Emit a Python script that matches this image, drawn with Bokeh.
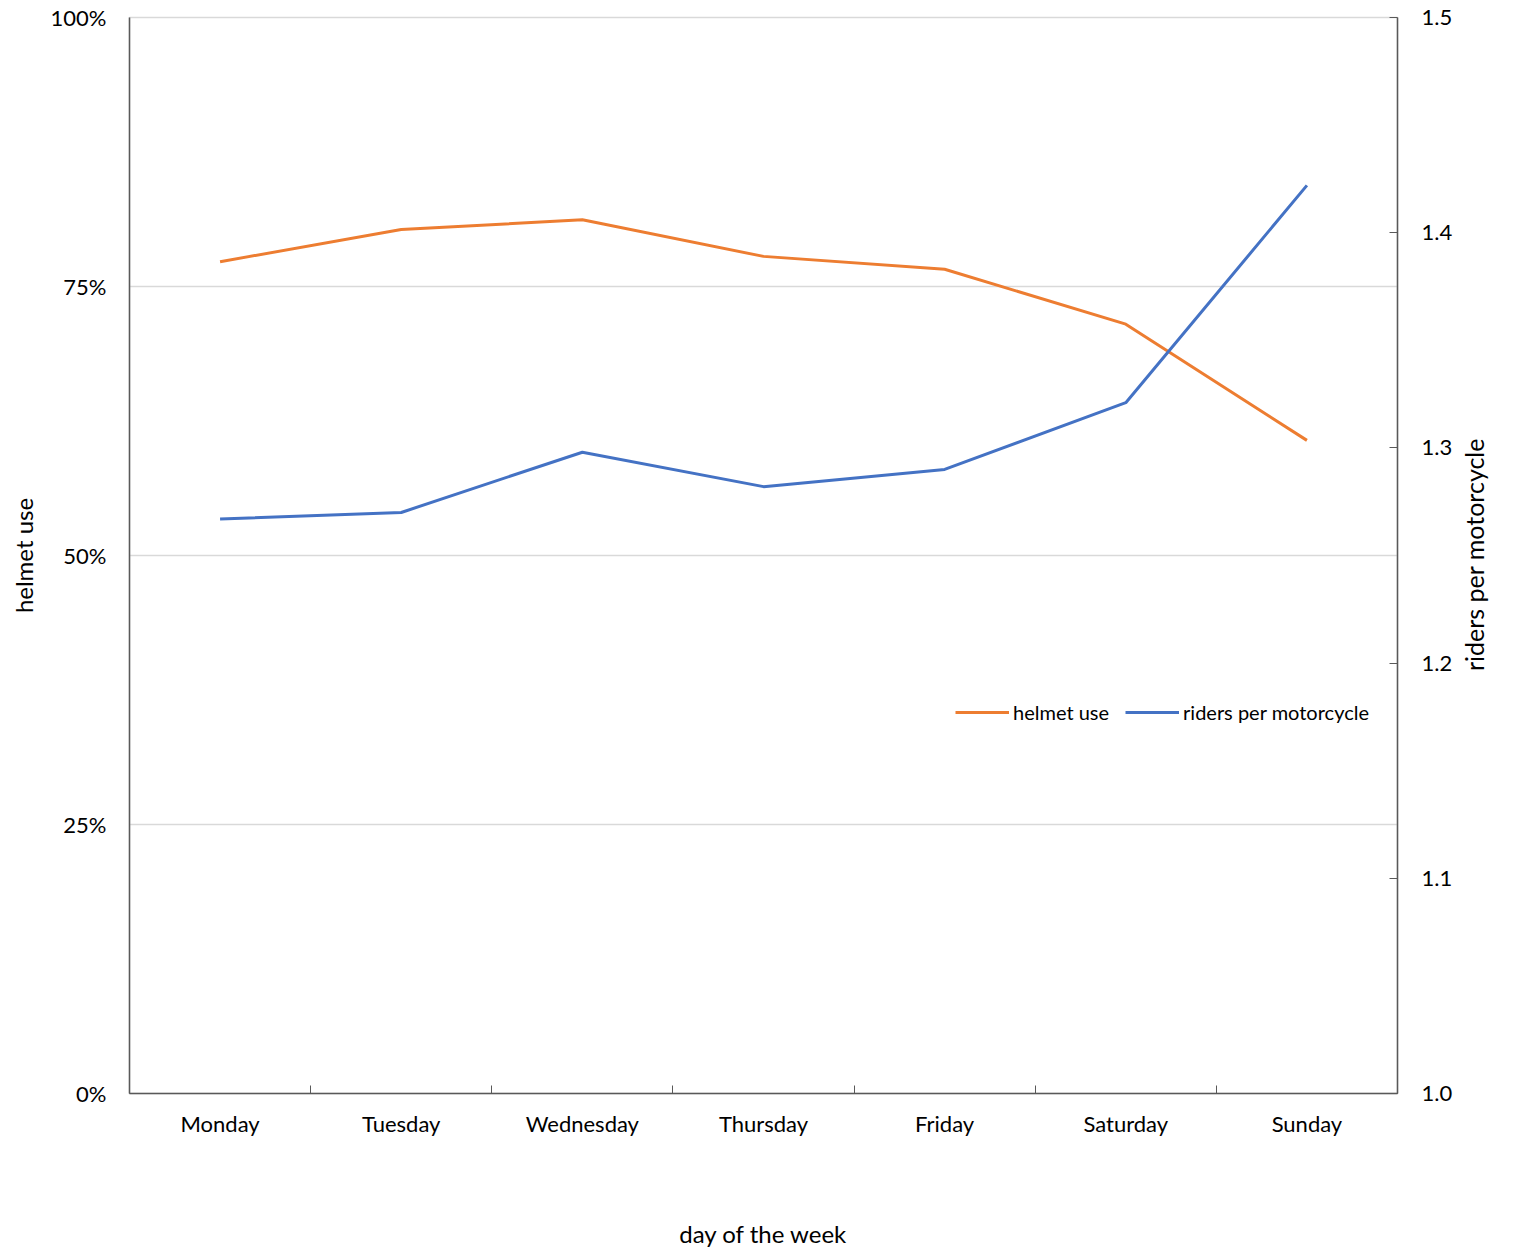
import math
from bokeh.plotting import figure
from bokeh.layouts import row
from bokeh.models import (Range1d, LinearAxis, FixedTicker, NumeralTickFormatter,
                          Legend, LegendItem, Label)
from bokeh.embed import file_html
from bokeh.resources import INLINE

days = ["Monday", "Tuesday", "Wednesday", "Thursday", "Friday", "Saturday", "Sunday"]
helmet_use = [0.773, 0.803, 0.812, 0.778, 0.766, 0.715, 0.607]
riders_per_motorcycle = [1.267, 1.270, 1.298, 1.282, 1.290, 1.321, 1.422]
left_ticks = [0, 0.25, 0.5, 0.75, 1.0]
right_ticks = [1.0, 1.1, 1.2, 1.3, 1.4, 1.5]

FONT = "Lato"
xs = [i + 0.5 for i in range(len(days))]
FW, FH = 1268, 1076
H = 1240
BL, BR, BT, BB = 129, 60, 17, 147

p = figure(width=BL + FW + BR, height=H, output_backend="svg", toolbar_location=None,
           x_range=Range1d(0, len(days)), y_range=Range1d(0, 1),
           frame_width=FW, frame_height=FH,
           min_border_left=BL, min_border_right=BR, min_border_top=BT,
           min_border_bottom=BB)
p.outline_line_color = "#d9d9d9"
p.outline_line_width = 1.5
p.background_fill_color = "white"
p.border_fill_color = "white"
p.extra_y_ranges = {"riders": Range1d(1.0, 1.5)}

# x axis
xa = p.xaxis[0]
xa.ticker = FixedTicker(ticks=xs, minor_ticks=list(range(0, len(days) + 1)))
xa.major_label_overrides = {x: d for x, d in zip(xs, days)}
xa.major_tick_in = 0
xa.major_tick_out = 0
xa.minor_tick_in = 8
xa.minor_tick_out = 0
xa.minor_tick_line_color = "#595959"
xa.axis_line_color = "#595959"
xa.axis_line_width = 1.5
xa.major_label_text_font = FONT
xa.major_label_text_font_size = "22px"
xa.major_label_text_color = "#000000"
xa.major_label_standoff = 16
xa.axis_label = "day of the week"
xa.axis_label_text_font = FONT
xa.axis_label_text_font_size = "24px"
xa.axis_label_text_font_style = "normal"
xa.axis_label_text_color = "#000000"
xa.axis_label_standoff = 79

# left axis
ya = p.yaxis[0]
ya.ticker = FixedTicker(ticks=left_ticks)
ya.formatter = NumeralTickFormatter(format="0%")
ya.major_tick_in = 0
ya.major_tick_out = 0
ya.minor_tick_in = 0
ya.minor_tick_out = 0
ya.axis_line_color = "#595959"
ya.axis_line_width = 1.5
ya.major_label_text_font = FONT
ya.major_label_text_font_size = "22px"
ya.major_label_text_color = "#000000"
ya.major_label_standoff = 23
ya.axis_label = "helmet use"
ya.axis_label_text_font = FONT
ya.axis_label_text_font_size = "24px"
ya.axis_label_text_font_style = "normal"
ya.axis_label_text_color = "#000000"
ya.axis_label_standoff = 10

# right axis
ra = LinearAxis(y_range_name="riders", ticker=FixedTicker(ticks=right_ticks),
                formatter=NumeralTickFormatter(format="0.0"))
ra.major_tick_in = 8
ra.major_tick_out = 0
ra.minor_tick_in = 0
ra.minor_tick_out = 0
ra.axis_line_color = "#595959"
ra.axis_line_width = 1.5
ra.major_tick_line_color = "#595959"
ra.major_label_text_font = FONT
ra.major_label_text_font_size = "22px"
ra.major_label_text_color = "#000000"
ra.major_label_standoff = 24
p.add_layout(ra, "right")

# grid
p.xgrid.grid_line_color = None
p.ygrid[0].ticker = FixedTicker(ticks=left_ticks[1:])
p.ygrid.grid_line_color = "#d9d9d9"
p.ygrid.grid_line_width = 1.5

r1 = p.line(xs, helmet_use, line_color="#ED7D31", line_width=3)
r2 = p.line(xs, riders_per_motorcycle, line_color="#4472C4", line_width=3,
            y_range_name="riders")

legend = Legend(items=[LegendItem(label="helmet use", renderers=[r1]),
                       LegendItem(label="riders per motorcycle", renderers=[r2])],
                orientation="horizontal", location=(826, 369),
                border_line_color=None, background_fill_alpha=0,
                label_text_font=FONT, label_text_font_size="20px",
                label_text_color="#000000", glyph_width=54, glyph_height=20,
                label_standoff=4, spacing=16, padding=0, margin=0)
p.add_layout(legend, "center")

# side panel holding the right-axis title (reads bottom-to-top)
SW = 50
side = figure(width=SW, height=H, output_backend="svg", toolbar_location=None,
              x_range=Range1d(0, 1), y_range=Range1d(0, 1),
              x_axis_type=None, y_axis_type=None,
              min_border_left=0, min_border_right=0, min_border_top=0,
              min_border_bottom=0)
side.outline_line_color = None
side.xgrid.grid_line_color = None
side.ygrid.grid_line_color = None
side.border_fill_color = "white"
side.add_layout(Label(x=16, y=H - (BT + FH / 2) - 156, x_units="screen", y_units="screen",
                      text="riders per motorcycle", angle=math.pi / 2,
                      text_align="center", text_baseline="middle",
                      text_font=FONT, text_font_size="25px", text_color="#000000"))

layout = row(p, side, spacing=0)
open("out.html", "w").write(file_html(layout, INLINE))
